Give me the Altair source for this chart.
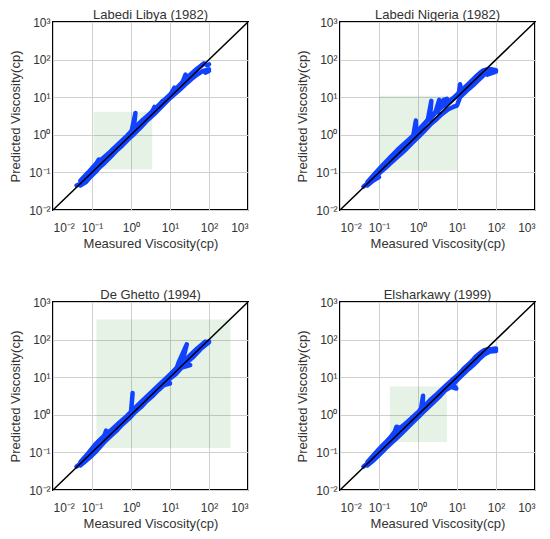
import altair as alt
import pandas as pd

titles = ["Labedi Libya (1982)", "Labedi Nigeria (1982)", "De Ghetto (1994)", "Elsharkawy (1999)"]

# shaded green boxes (measured x1..x2, predicted y1..y2)
rect_x1 = [0.11, 0.10, 0.13, 0.19]
rect_x2 = [3.5, 10.0, 355.0, 5.5]
rect_y1 = [0.12, 0.11, 0.13, 0.19]
rect_y2 = [4.1, 11.0, 340.0, 5.7]

diag_vals = [0.01, 1000]
tick_vals = [0.01, 0.1, 1, 10, 100, 1000]

# Labedi Libya
libya_a_meas = [0.04, 0.05, 0.06, 0.07, 0.08, 0.1, 0.12, 0.15, 0.13, 0.18, 0.22, 0.3, 0.35, 0.4, 0.5, 0.6, 0.8, 1.0, 1.3, 1.15, 1.5, 2.0, 2.6, 3.2, 4.0, 3.8, 5, 6.5, 8, 10, 13, 12, 15, 20, 25, 22, 30, 40, 50, 60, 75, 90, 100]
libya_a_pred = [0.045, 0.05, 0.06, 0.07, 0.085, 0.11, 0.15, 0.22, 0.16, 0.2, 0.26, 0.33, 0.42, 0.42, 0.55, 0.62, 0.85, 1.05, 3.8, 1.25, 1.6, 2.2, 3.0, 3.4, 5.5, 4.0, 5.5, 8, 8.5, 11, 18, 13, 16, 22, 40, 25, 32, 45, 55, 65, 80, 70, 75]
libya_b_meas = [0.05, 0.07, 0.09, 0.12, 0.16, 0.2, 0.3, 0.45, 0.6, 0.9, 1.2, 1.8, 2.5, 4, 6, 9, 12, 18, 25, 35, 50, 70, 100, 80, 100]
libya_b_pred = [0.045, 0.055, 0.075, 0.1, 0.14, 0.17, 0.26, 0.4, 0.52, 0.8, 1.05, 1.6, 2.3, 3.6, 5.5, 8.5, 11, 16, 22, 30, 40, 50, 55, 45, 50]
libya_c_meas = [0.05, 0.08, 0.12, 0.2, 0.3, 0.5, 0.8, 1.2, 2, 3, 5, 8, 12, 20, 30, 50, 70]
libya_c_pred = [0.06, 0.1, 0.16, 0.25, 0.36, 0.6, 0.95, 1.5, 2.5, 3.6, 6, 9.5, 14, 24, 36, 58, 75]

# Labedi Nigeria
nigeria_a_meas = [0.04, 0.05, 0.06, 0.08, 0.1, 0.12, 0.15, 0.2, 0.25, 0.3, 0.4, 0.5, 0.6, 0.75, 0.88, 0.9, 1.1, 1.4, 1.8, 2.2, 2.0, 2.8, 3.5, 3.2, 4.5, 5.5, 5.0, 7.0, 9.0, 11, 12, 13, 16, 20, 25, 30, 40, 50, 60, 80, 100]
nigeria_a_pred = [0.042, 0.05, 0.062, 0.085, 0.11, 0.13, 0.17, 0.24, 0.32, 0.35, 0.45, 0.55, 0.7, 0.9, 2.4, 1.0, 1.3, 1.8, 2.6, 8.0, 2.5, 4.0, 8.5, 4.0, 8.5, 9.0, 6.0, 8.0, 10, 12, 22, 14, 17, 22, 28, 33, 45, 52, 55, 55, 52]
nigeria_b_meas = [0.05, 0.07, 0.1, 0.09, 0.12, 0.18, 0.25, 0.35, 0.5, 0.7, 1.0, 1.5, 2.2, 3, 4, 6, 8, 10, 12, 18, 25, 35, 50, 70, 100, 60]
nigeria_b_pred = [0.045, 0.06, 0.075, 0.085, 0.11, 0.16, 0.22, 0.3, 0.42, 0.6, 0.85, 1.3, 2.0, 2.6, 3.5, 4.8, 5.5, 6.0, 10, 15, 20, 28, 40, 45, 48, 40]
nigeria_c_meas = [0.05, 0.08, 0.12, 0.2, 0.3, 0.5, 0.8, 1.2, 2, 3, 5, 8, 12, 20, 30, 45]
nigeria_c_pred = [0.055, 0.095, 0.15, 0.26, 0.4, 0.65, 1.0, 1.6, 2.8, 4.2, 6.5, 9.5, 14, 23, 35, 50]

# De Ghetto
ghetto_a_meas = [0.04, 0.05, 0.06, 0.08, 0.1, 0.12, 0.15, 0.2, 0.23, 0.22, 0.3, 0.4, 0.5, 0.45, 0.6, 0.8, 1.0, 1.1, 1.0, 1.3, 1.6, 2.0, 2.5, 3.0, 4.0, 5, 6, 8, 10, 12, 15, 17, 27, 20, 25, 30, 40, 50, 60, 75, 100]
ghetto_a_pred = [0.042, 0.05, 0.062, 0.085, 0.11, 0.14, 0.2, 0.25, 0.38, 0.26, 0.33, 0.45, 0.6, 0.5, 0.65, 0.85, 1.1, 3.8, 1.2, 1.4, 1.8, 2.2, 2.8, 3.3, 4.5, 5.5, 6.5, 9, 11, 14, 18, 26, 75, 22, 28, 33, 45, 55, 65, 80, 90]
ghetto_b_meas = [0.05, 0.07, 0.09, 0.12, 0.16, 0.22, 0.3, 0.45, 0.6, 0.9, 1.3, 1.8, 2.5, 3.5, 5, 7, 10, 9, 14, 20, 33, 25, 40, 60, 100]
ghetto_b_pred = [0.045, 0.06, 0.075, 0.1, 0.14, 0.2, 0.27, 0.4, 0.55, 0.8, 1.2, 1.6, 2.3, 3.1, 4.5, 6.2, 6.8, 8.5, 12, 18, 21, 23, 35, 55, 85]
ghetto_c_meas = [0.05, 0.08, 0.12, 0.2, 0.3, 0.5, 0.8, 1.2, 2, 3, 5, 8, 12, 20, 30, 50, 80]
ghetto_c_pred = [0.055, 0.095, 0.16, 0.27, 0.38, 0.62, 0.95, 1.45, 2.4, 3.6, 6, 9.5, 14, 24, 35, 58, 88]

# Elsharkawy
elsh_a_meas = [0.04, 0.05, 0.06, 0.08, 0.1, 0.12, 0.15, 0.2, 0.25, 0.28, 0.35, 0.45, 0.6, 0.8, 1.0, 1.2, 1.35, 1.3, 1.6, 2.0, 2.5, 3.0, 4.0, 5.0, 6.0, 8.0, 10, 12, 15, 20, 25, 30, 40, 50, 60, 80, 100]
elsh_a_pred = [0.042, 0.05, 0.062, 0.085, 0.11, 0.14, 0.18, 0.26, 0.35, 0.48, 0.45, 0.55, 0.7, 0.9, 1.1, 1.5, 3.2, 1.5, 1.8, 2.3, 2.8, 3.3, 4.3, 5.5, 6.5, 7.5, 10, 13, 17, 22, 28, 35, 45, 52, 55, 55, 55]
elsh_b_meas = [0.05, 0.07, 0.1, 0.14, 0.2, 0.3, 0.45, 0.7, 1.0, 1.5, 2.2, 3.5, 5, 7, 9.6, 8, 12, 18, 25, 35, 30, 50, 70, 100]
elsh_b_pred = [0.045, 0.06, 0.085, 0.12, 0.17, 0.25, 0.38, 0.6, 0.85, 1.3, 1.9, 3.0, 4.5, 5.5, 5.0, 6.5, 10, 15, 20, 28, 25, 40, 48, 50]
elsh_c_meas = [0.05, 0.08, 0.12, 0.2, 0.3, 0.5, 0.8, 1.2, 2, 3, 5, 8, 12, 20, 30, 50, 80, 100]
elsh_c_pred = [0.055, 0.095, 0.15, 0.25, 0.37, 0.6, 0.95, 1.4, 2.4, 3.5, 5.8, 9, 13, 22, 32, 50, 56, 58]

series = [
    [(libya_a_meas, libya_a_pred), (libya_b_meas, libya_b_pred), (libya_c_meas, libya_c_pred)],
    [(nigeria_a_meas, nigeria_a_pred), (nigeria_b_meas, nigeria_b_pred), (nigeria_c_meas, nigeria_c_pred)],
    [(ghetto_a_meas, ghetto_a_pred), (ghetto_b_meas, ghetto_b_pred), (ghetto_c_meas, ghetto_c_pred)],
    [(elsh_a_meas, elsh_a_pred), (elsh_b_meas, elsh_b_pred), (elsh_c_meas, elsh_c_pred)],
]

label_expr = ("'10' + (datum.value < 0.05 ? '⁻²' : datum.value < 0.5 ? '⁻¹' : "
              "datum.value < 5 ? '⁰' : datum.value < 50 ? '¹' : datum.value < 500 ? '²' : '³')")

W, H = 195, 188


def panel(k):
    rows = []
    for pi, (ms, ps) in enumerate(series[k]):
        for i, (m, p) in enumerate(zip(ms, ps)):
            rows.append({"path": pi, "i": i, "meas": m, "pred": p})
    pts = pd.DataFrame(rows)
    rect_df = pd.DataFrame({"x1": [rect_x1[k]], "x2": [rect_x2[k]],
                            "y1": [rect_y1[k]], "y2": [rect_y2[k]]})
    diag_df = pd.DataFrame({"v": diag_vals})

    xs = alt.Scale(type="log", domain=[0.01, 1000], nice=False)
    ys = alt.Scale(type="log", domain=[0.01, 1000], nice=False)
    xax = alt.Axis(values=tick_vals, labelExpr=label_expr, title="Measured Viscosity(cp)")
    yax = alt.Axis(values=tick_vals, labelExpr=label_expr, title="Predicted Viscosity(cp)")

    rect = alt.Chart(rect_df).mark_rect(color="green", opacity=0.1).encode(
        x=alt.X("x1:Q", scale=xs, axis=xax),
        x2="x2:Q",
        y=alt.Y("y1:Q", scale=ys, axis=yax),
        y2="y2:Q",
    )
    lines = alt.Chart(pts).mark_line(
        color="#1142ff", strokeWidth=4.5, strokeCap="round", strokeJoin="round"
    ).encode(
        x=alt.X("meas:Q", scale=xs),
        y=alt.Y("pred:Q", scale=ys),
        detail="path:N",
        order="i:Q",
    )
    diag = alt.Chart(diag_df).mark_line(color="black", strokeWidth=1.5, clip=True).encode(
        x=alt.X("v:Q", scale=xs),
        y=alt.Y("v:Q", scale=ys),
    )
    return alt.layer(rect, lines, diag).properties(
        width=W, height=H,
        title=alt.Title(titles[k]),
    )


top = alt.hconcat(panel(0), panel(1), spacing=46)
bottom = alt.hconcat(panel(2), panel(3), spacing=46)
chart = alt.vconcat(top, bottom, spacing=37).properties(padding=0).configure_view(
    stroke="black", strokeWidth=2
).configure_axis(
    grid=True, gridColor="#d0d0d0", gridWidth=1, ticks=False, domain=False,
    labelFont="Liberation Sans", labelFontSize=12, labelColor="#333333", labelPadding=4,
    titleFont="Liberation Sans", titleFontSize=13, titleFontWeight="normal", titleColor="#333333",
).configure_axisX(labelPadding=12, titlePadding=4).configure_axisY(
    labelPadding=3, titlePadding=6
).configure_title(
    font="Liberation Sans", fontSize=13, fontWeight="normal", color="#333333", offset=-6
)

chart.save("out.html", embed_options={"renderer": "svg", "actions": False})
